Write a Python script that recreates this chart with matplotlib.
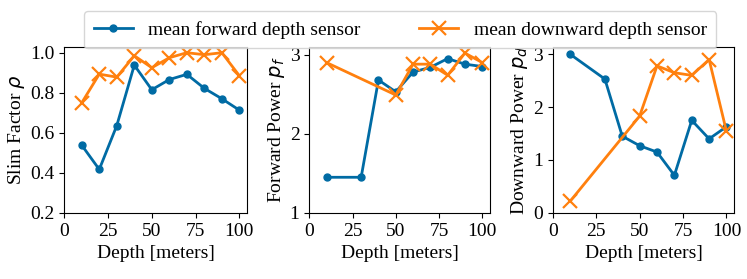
import matplotlib
matplotlib.use("Agg")
import matplotlib.pyplot as plt

plt.rcParams["font.family"] = ["Liberation Serif", "DejaVu Serif"]
plt.rcParams["mathtext.fontset"] = "dejavusans"
plt.rcParams["font.size"] = 14

depth = [10, 20, 30, 40, 50, 60, 70, 80, 90, 100]

# slim factor
slim_fwd = [0.538, 0.417, 0.636, 0.938, 0.815, 0.866, 0.892, 0.822, 0.77, 0.713]
slim_down = [0.75, 0.893, 0.878, 0.985, 0.925, 0.975, 1.0, 0.99, 1.0, 0.885]

# forward power
fp_fwd_depth = [10, 30, 40, 50, 60, 70, 80, 90, 100]
fp_fwd = [1.45, 1.45, 2.68, 2.53, 2.78, 2.84, 2.95, 2.88, 2.85]
fp_down_depth = [10, 50, 60, 70, 80, 90, 100]
fp_down = [2.9, 2.49, 2.88, 2.88, 2.74, 3.02, 2.9]

# downward power
dp_fwd_depth = [10, 30, 40, 50, 60, 70, 80, 90, 100]
dp_fwd = [3.0, 2.53, 1.45, 1.27, 1.15, 0.71, 1.75, 1.4, 1.63]
dp_down_depth = [10, 50, 60, 70, 80, 90, 100]
dp_down = [0.22, 1.83, 2.78, 2.65, 2.6, 2.9, 1.54]

blue = "#006BA4"
orange = "#FF800E"

fig = plt.figure(figsize=(7.47, 2.79), dpi=100)
boxes = [(0.086, 0.245), (0.414, 0.242), (0.740, 0.243)]
axes = [fig.add_axes([l, 0.237, w, 0.595]) for l, w in boxes]

panels = [
    (depth, slim_fwd, depth, slim_down, r"Slim Factor $\rho$", 0.2),
    (fp_fwd_depth, fp_fwd, fp_down_depth, fp_down, r"Forward Power $p_f$", 1),
    (dp_fwd_depth, dp_fwd, dp_down_depth, dp_down, r"Downward Power $p_d$", 0),
]

for ax, (xf, yf, xd, yd, label, ymin) in zip(axes, panels):
    l1, = ax.plot(xf, yf, color=blue, marker="o", markersize=5, linewidth=2,
                  label="mean forward depth sensor")
    l2, = ax.plot(xd, yd, color=orange, marker="x", markersize=10,
                  markeredgewidth=1.6, linewidth=2,
                  label="mean downward depth sensor")
    ax.set_xlim(0, 104.5)
    ax.set_ylim(bottom=ymin)
    ax.set_xticks([0, 25, 50, 75, 100])
    ax.set_xlabel("Depth [meters]")
    ax.set_ylabel(label, labelpad=2)

axes[0].set_yticks([0.2, 0.4, 0.6, 0.8, 1.0])
axes[1].set_yticks([1, 2, 3])
axes[2].set_yticks([0, 1, 2, 3])

fig.legend(handles=[l1, l2], loc="upper center", ncol=2,
           bbox_to_anchor=(0.536, 0.995), columnspacing=3, borderpad=0.5)

fig.savefig("out.png", dpi=100)
